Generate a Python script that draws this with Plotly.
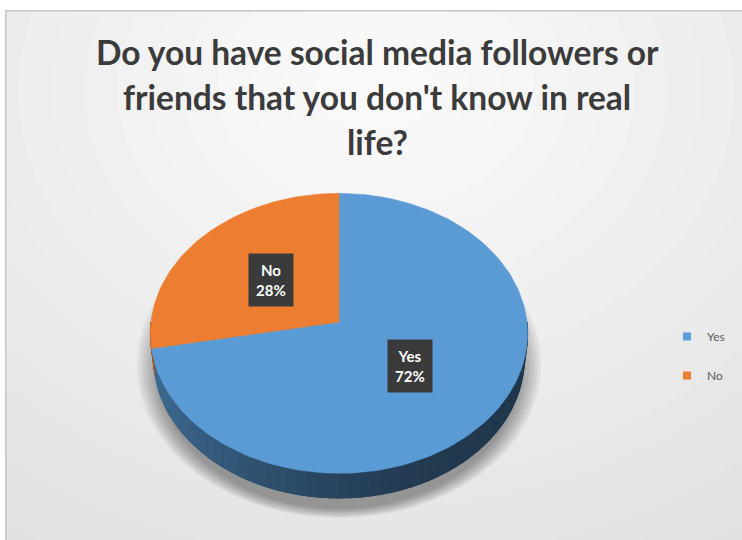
import numpy as np
import plotly.graph_objects as go

# ---------------- data ----------------
categories = ["Yes", "No"]
values = [72, 28]
slice_colors = ["#5B9BD5", "#ED7D31"]
title_lines = ["Do you have social media followers or",
               "friends that you don't know in real",
               "life?"]

# ---------------- geometry (perspective 3D pie) ----------------
W, H = 742, 540
CX, CY = 339, 322          # screen position of pie centre
D = 8.3                    # camera distance
SIN_A, COS_A = 0.74, 0.6726
K = 1560                   # screen scale
T = 0.204                  # pie thickness
LABEL_R = 0.48


def proj(u, v, z=0.0):
    w = D + v * COS_A - z * SIN_A
    return CX + K * u / w, CY - K * (v * SIN_A + z * COS_A) / w


def hex_rgb(h):
    h = h.lstrip("#")
    return tuple(int(h[i:i + 2], 16) for i in (0, 2, 4))


def shade(h, f):
    r, g, b = hex_rgb(h)
    return "rgb(%d,%d,%d)" % (r * f, g * f, b * f)


def side_factor(xm):
    frac = np.clip((527 - xm) / 376.0, 0, 1)
    return 0.36 + 0.32 * frac ** 2


total = float(sum(values))
bounds = []
start = 0.0
for v in values:
    end = start + v / total * 360.0
    bounds.append((start, end))
    start = end

fig = go.Figure()

# ---- side wall base (one polygon per slice, visible front part) ----
for (a0, a1), col in zip(bounds, slice_colors):
    lo, hi = max(a0, 90.0), min(a1, 270.0)
    if hi <= lo:
        continue
    ts = np.radians(np.linspace(lo, hi, 60))
    top = [proj(np.sin(t), np.cos(t), 0) for t in ts]
    bot = [proj(np.sin(t), np.cos(t), -T) for t in ts[::-1]]
    pts = top + bot + [top[0]]
    xm = np.mean([p[0] for p in top])
    c = shade(col, side_factor(xm))
    fig.add_trace(go.Scatter(
        x=[p[0] for p in pts], y=[p[1] for p in pts], mode="lines",
        fill="toself", fillcolor=c, line=dict(color=c, width=1),
        hoverinfo="skip", showlegend=False))

# ---- side wall gradient strips ----
breaks = set(np.arange(90.0, 270.0 + 1e-9, 3.0).tolist())
for a0, a1 in bounds:
    for a in (a0, a1):
        if 90 < a < 270:
            breaks.add(a)
breaks = sorted(breaks)
for t0, t1 in zip(breaks[:-1], breaks[1:]):
    mid = (t0 + t1) / 2
    idx = [i for i, (a0, a1) in enumerate(bounds) if a0 <= mid < a1][0]
    ts = np.radians(np.linspace(t0, t1, 4))
    top = [proj(np.sin(t), np.cos(t), 0) for t in ts]
    bot = [proj(np.sin(t), np.cos(t), -T) for t in ts[::-1]]
    pts = top + bot + [top[0]]
    xm = np.mean([p[0] for p in top])
    col = shade(slice_colors[idx], side_factor(xm))
    fig.add_trace(go.Scatter(
        x=[p[0] for p in pts], y=[p[1] for p in pts], mode="lines",
        fill="toself", fillcolor=col, line=dict(color=col, width=1.2),
        hoverinfo="skip", showlegend=False))

# ---- top faces of the slices ----
for (a0, a1), name, col in zip(bounds, categories, slice_colors):
    ts = np.radians(np.linspace(a0, a1, max(int((a1 - a0) / 1.5), 8)))
    arc = [proj(np.sin(t), np.cos(t), 0) for t in ts]
    pts = [proj(0, 0)] + arc + [proj(0, 0)]
    fig.add_trace(go.Scatter(
        x=[p[0] for p in pts], y=[p[1] for p in pts], mode="lines",
        fill="toself", fillcolor=col, line=dict(color=col, width=0.5),
        hoverinfo="skip", showlegend=False, name=name))

# ---- data labels ----
for (a0, a1), name, v in zip(bounds, categories, values):
    m = np.radians((a0 + a1) / 2)
    lx, ly = proj(LABEL_R * np.sin(m), LABEL_R * np.cos(m))
    fig.add_annotation(
        x=lx, y=ly, xref="x", yref="y", showarrow=False,
        text="<b>%s<br>%d%%</b>" % (name, round(v / total * 100)),
        font=dict(family="Lato", size=15, color="white"),
        bgcolor="#3a3a3a", borderpad=7, align="center")

# ---- legend entries ----
for name, col in zip(categories, slice_colors):
    fig.add_trace(go.Scatter(
        x=[None], y=[None], mode="markers", name=name,
        legendgroup=name,
        marker=dict(symbol="square", size=8, color=col)))

# ---- title ----
for i, line in enumerate(title_lines):
    fig.add_annotation(
        x=377, y=52 + i * 45, xref="x", yref="y", showarrow=False,
        text="<b>%s</b>" % line,
        font=dict(family="Lato", size=33.5, color="#3b3b3b"))

# ---- background gradient + shadow + border ----
shapes = []
bg_lo, bg_hi = np.array([220, 220, 220]), np.array([250, 250, 250])
n = 24
for i in range(n):
    s = i / (n - 1)
    c = bg_lo + (bg_hi - bg_lo) * s
    rx = 760 * (1 - s) + 60
    ry = 620 * (1 - s) + 40
    shapes.append(dict(type="circle", xref="x", yref="y", layer="below",
                       x0=376 - rx, x1=376 + rx, y0=90 - ry, y1=90 + ry,
                       fillcolor="rgb(%d,%d,%d)" % tuple(c), line=dict(width=0)))
for i in range(8):
    rx, ry = 202 - i * 3, 153 - i * 2
    cy = 365 + i * 0.7
    shapes.append(dict(type="circle", xref="x", yref="y", layer="below",
                       x0=339 - rx, x1=339 + rx, y0=cy - ry, y1=cy + ry,
                       fillcolor="rgba(0,0,0,0.05)", line=dict(width=0)))
shapes.append(dict(type="rect", xref="x", yref="y", layer="above",
                   x0=5.5, x1=760, y0=10.5, y1=560,
                   line=dict(color="#c6c6c6", width=2), fillcolor="rgba(0,0,0,0)"))

fig.update_layout(
    width=W, height=H,
    margin=dict(l=5, r=0, t=10, b=0, autoexpand=False),
    paper_bgcolor="white", plot_bgcolor="#dcdcdc",
    xaxis=dict(range=[5, W], visible=False, fixedrange=True),
    yaxis=dict(range=[H, 10], visible=False, fixedrange=True),
    shapes=shapes,
    showlegend=True,
    legend=dict(xref="container", yref="container", x=667 / W, y=1 - 322 / H,
                xanchor="left", yanchor="top", bgcolor="rgba(0,0,0,0)",
                font=dict(family="Lato", size=12, color="#595959"),
                tracegroupgap=20, itemwidth=30),
    hovermode=False,
)

fig.write_html("out.html",
               config={"displayModeBar": False},
               post_script="document.body.style.margin='0';"
                           "document.body.style.overflow='hidden';")
